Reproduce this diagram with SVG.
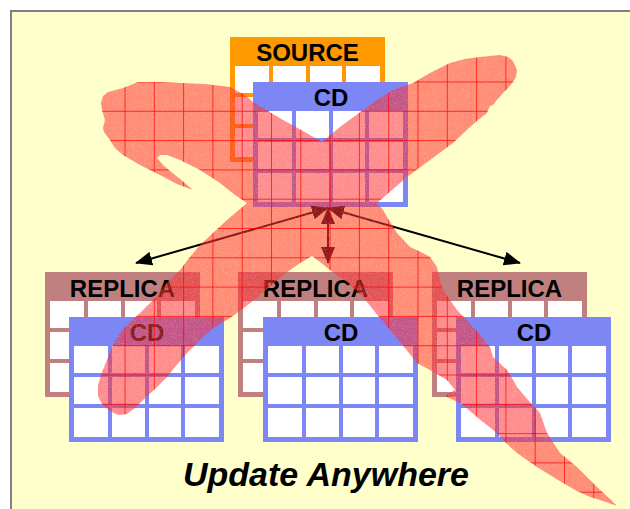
<svg xmlns="http://www.w3.org/2000/svg" xmlns:xlink="http://www.w3.org/1999/xlink" width="630" height="509" viewBox="0 0 630 509">
  <defs>
    <style>
      .lbl{font-family:"Liberation Sans",Arial,Helvetica,sans-serif;font-weight:bold;font-size:24px;text-anchor:middle;fill:#000}
      .src{fill:#ff9900}
      .rep{fill:#c08080}
      .cd{fill:#7c86f4}
      .cell{fill:#ffffff}
      .link{stroke:#000;stroke-width:2;fill:none;marker-start:url(#head);marker-end:url(#head)}
      .title{font-family:"Liberation Sans",Arial,Helvetica,sans-serif;font-weight:bold;font-style:italic;font-size:34px;text-anchor:middle;fill:#000}
      .xfill{fill:#ff2d2d;fill-opacity:0.55}
      .xgrid{stroke:#ff0000;stroke-width:1;stroke-opacity:0.7;fill:none}
    </style>
    <marker id="head" markerUnits="userSpaceOnUse" markerWidth="17" markerHeight="14" refX="16" refY="7" orient="auto-start-reverse">
      <path d="M0,0 L17,7 L0,14 Z" fill="#000"/>
    </marker>
    <!-- speckle used inside the brush stroke -->
    <filter id="grain" x="0" y="0" width="1" height="1">
      <feTurbulence type="fractalNoise" baseFrequency="1.1" numOctaves="2" seed="5" stitchTiles="stitch"/>
      <feColorMatrix type="matrix" values="0 0 0 0 1  0 0 0 0 1  0 0 0 0 1  0 0 0 2 -1"/>
    </filter>
    <!-- white cells of a 4x3 table body, placed under a 28px header -->
    <g id="cells">
      <rect class="cell" x="5" y="29" width="34" height="27"/>
      <rect class="cell" x="43" y="29" width="33" height="27"/>
      <rect class="cell" x="80" y="29" width="32" height="27"/>
      <rect class="cell" x="116" y="29" width="34" height="27"/>
      <rect class="cell" x="5" y="60" width="34" height="27"/>
      <rect class="cell" x="43" y="60" width="33" height="27"/>
      <rect class="cell" x="80" y="60" width="32" height="27"/>
      <rect class="cell" x="116" y="60" width="34" height="27"/>
      <rect class="cell" x="5" y="91" width="34" height="29"/>
      <rect class="cell" x="43" y="91" width="33" height="29"/>
      <rect class="cell" x="80" y="91" width="32" height="29"/>
      <rect class="cell" x="116" y="91" width="34" height="29"/>
    </g>
    <!-- brush-stroke cross -->
    <path id="xshape" d="M138,82 L160,82 L180,83 L205,84 L230,87 L245,95 L253,102 L268,111 L283,120 L303,131 L322,142
      L340,127 L355,116 L367,107 L380,98 L393,90 L413,83 L430,73 L450,63 L465,59 L480,57 L500,55 L508,57 L513,61 L517,70 L516,77 L513,82 L508,88 L503,93 L496,101 L493,105 L490,106 L488,110 L487,113 L478,120 L470,127 L453,143 L430,160 L407,177 L392,190 L377,203
      L383,210 L390,222 L397,233 L410,247 L423,253 L430,257 L437,267 L440,280 L443,290 L450,300 L457,310 L473,327 L482,337 L490,347 L493,357 L507,370 L512,378 L517,387 L528,400 L540,413 L547,433 L560,453 L577,467 L597,487 L610,499 L617,506
      L600,500 L590,497 L575,490 L563,483 L550,475 L537,467 L527,460 L517,453 L505,442 L497,433 L478,418 L462,404 L445,396 L455,390 L447,380 L430,370 L417,363
      L405,348 L390,330 L375,312 L363,297 L348,283 L330,270 L320,262 L312,256
      L300,263 L283,275 L263,293 L245,307 L230,318 L213,328 L200,340 L187,353 L175,367 L167,377 L155,389 L143,400 L135,408 L127,414 L118,415 L110,411 L102,404 L98,396 L98,385 L102,372 L107,360 L113,345 L120,333 L130,322 L140,313 L155,298 L167,283 L180,270 L190,257 L200,245 L213,233 L227,220 L247,203
      L235,195 L220,183 L200,170 L180,160 L167,155 L160,155 L157,158
      L163,165 L170,171 L180,179 L193,190
      L185,187 L177,184 L160,175 L140,165 L123,155 L115,148 L110,140 L104,132 L103,128 L105,120 L102,110 L101,103 L103,96 L108,92 L123,88 Z"/>
    <clipPath id="xclip">
      <use xlink:href="#xshape"/>
    </clipPath>
  </defs>

  <!-- page and panel -->
  <rect width="630" height="509" fill="#ffffff"/>
  <rect x="11" y="11" width="640" height="520" fill="#ffffcc" stroke="#808080" stroke-width="2"/>

  <!-- source table with its CD table -->
  <g id="source">
    <rect class="src" x="230" y="37" width="155" height="125"/>
    <use xlink:href="#cells" x="230" y="37"/>
    <text class="lbl" x="307.5" y="61">SOURCE</text>
  </g>
  <g id="source-cd">
    <rect class="cd" x="253" y="82" width="155" height="125"/>
    <use xlink:href="#cells" x="253" y="82"/>
    <text class="lbl" x="331" y="106">CD</text>
  </g>

  <!-- replicas -->
  <g id="replica-1">
    <rect class="rep" x="45" y="272" width="155" height="125"/>
    <use xlink:href="#cells" x="45" y="272"/>
    <text class="lbl" x="122.5" y="296.5">REPLICA</text>
  </g>
  <g id="replica-1-cd">
    <rect class="cd" x="69" y="317" width="155" height="125"/>
    <use xlink:href="#cells" x="69" y="317"/>
    <text class="lbl" x="147" y="341">CD</text>
  </g>

  <g id="replica-2">
    <rect class="rep" x="238" y="272" width="155" height="125"/>
    <use xlink:href="#cells" x="238" y="272"/>
    <text class="lbl" x="315.5" y="296.5">REPLICA</text>
  </g>
  <g id="replica-2-cd">
    <rect class="cd" x="263" y="317" width="155" height="125"/>
    <use xlink:href="#cells" x="263" y="317"/>
    <text class="lbl" x="341" y="341">CD</text>
  </g>

  <g id="replica-3">
    <rect class="rep" x="432" y="272" width="155" height="125"/>
    <use xlink:href="#cells" x="432" y="272"/>
    <text class="lbl" x="509.5" y="296.5">REPLICA</text>
  </g>
  <g id="replica-3-cd">
    <rect class="cd" x="456" y="317" width="155" height="125"/>
    <use xlink:href="#cells" x="456" y="317"/>
    <text class="lbl" x="534" y="341">CD</text>
  </g>

  <!-- two-way replication links -->
  <g id="connectors">
    <line class="link" x1="328" y1="208" x2="136" y2="263"/>
    <line class="link" x1="328" y1="208" x2="328" y2="263"/>
    <line class="link" x1="328" y1="208" x2="520" y2="263"/>
  </g>

  <!-- crossing-out brush stroke with its grid texture -->
  <g id="cross">
    <use xlink:href="#xshape" class="xfill"/>
    <g clip-path="url(#xclip)">
      <rect x="90" y="50" width="540" height="460" filter="url(#grain)" opacity="0.35"/>
      <path class="xgrid" d="M95.7,40V515 M125,40V515 M154.3,40V515 M183.6,40V515 M212.9,40V515 M242.2,40V515 M271.5,40V515 M300.8,40V515 M330.1,40V515 M359.4,40V515 M388.7,40V515 M418,40V515 M447.3,40V515 M476.6,40V515 M505.9,40V515 M535.2,40V515 M564.5,40V515 M593.8,40V515 M623.1,40V515
        M80,52.7H640 M80,82H640 M80,111.3H640 M80,140.6H640 M80,169.9H640 M80,199.2H640 M80,228.5H640 M80,257.8H640 M80,287.1H640 M80,316.4H640 M80,345.7H640 M80,375H640 M80,404.3H640 M80,433.6H640 M80,462.9H640 M80,492.2H640"/>
    </g>
  </g>

  <text class="title" x="326" y="486">Update Anywhere</text>
</svg>
